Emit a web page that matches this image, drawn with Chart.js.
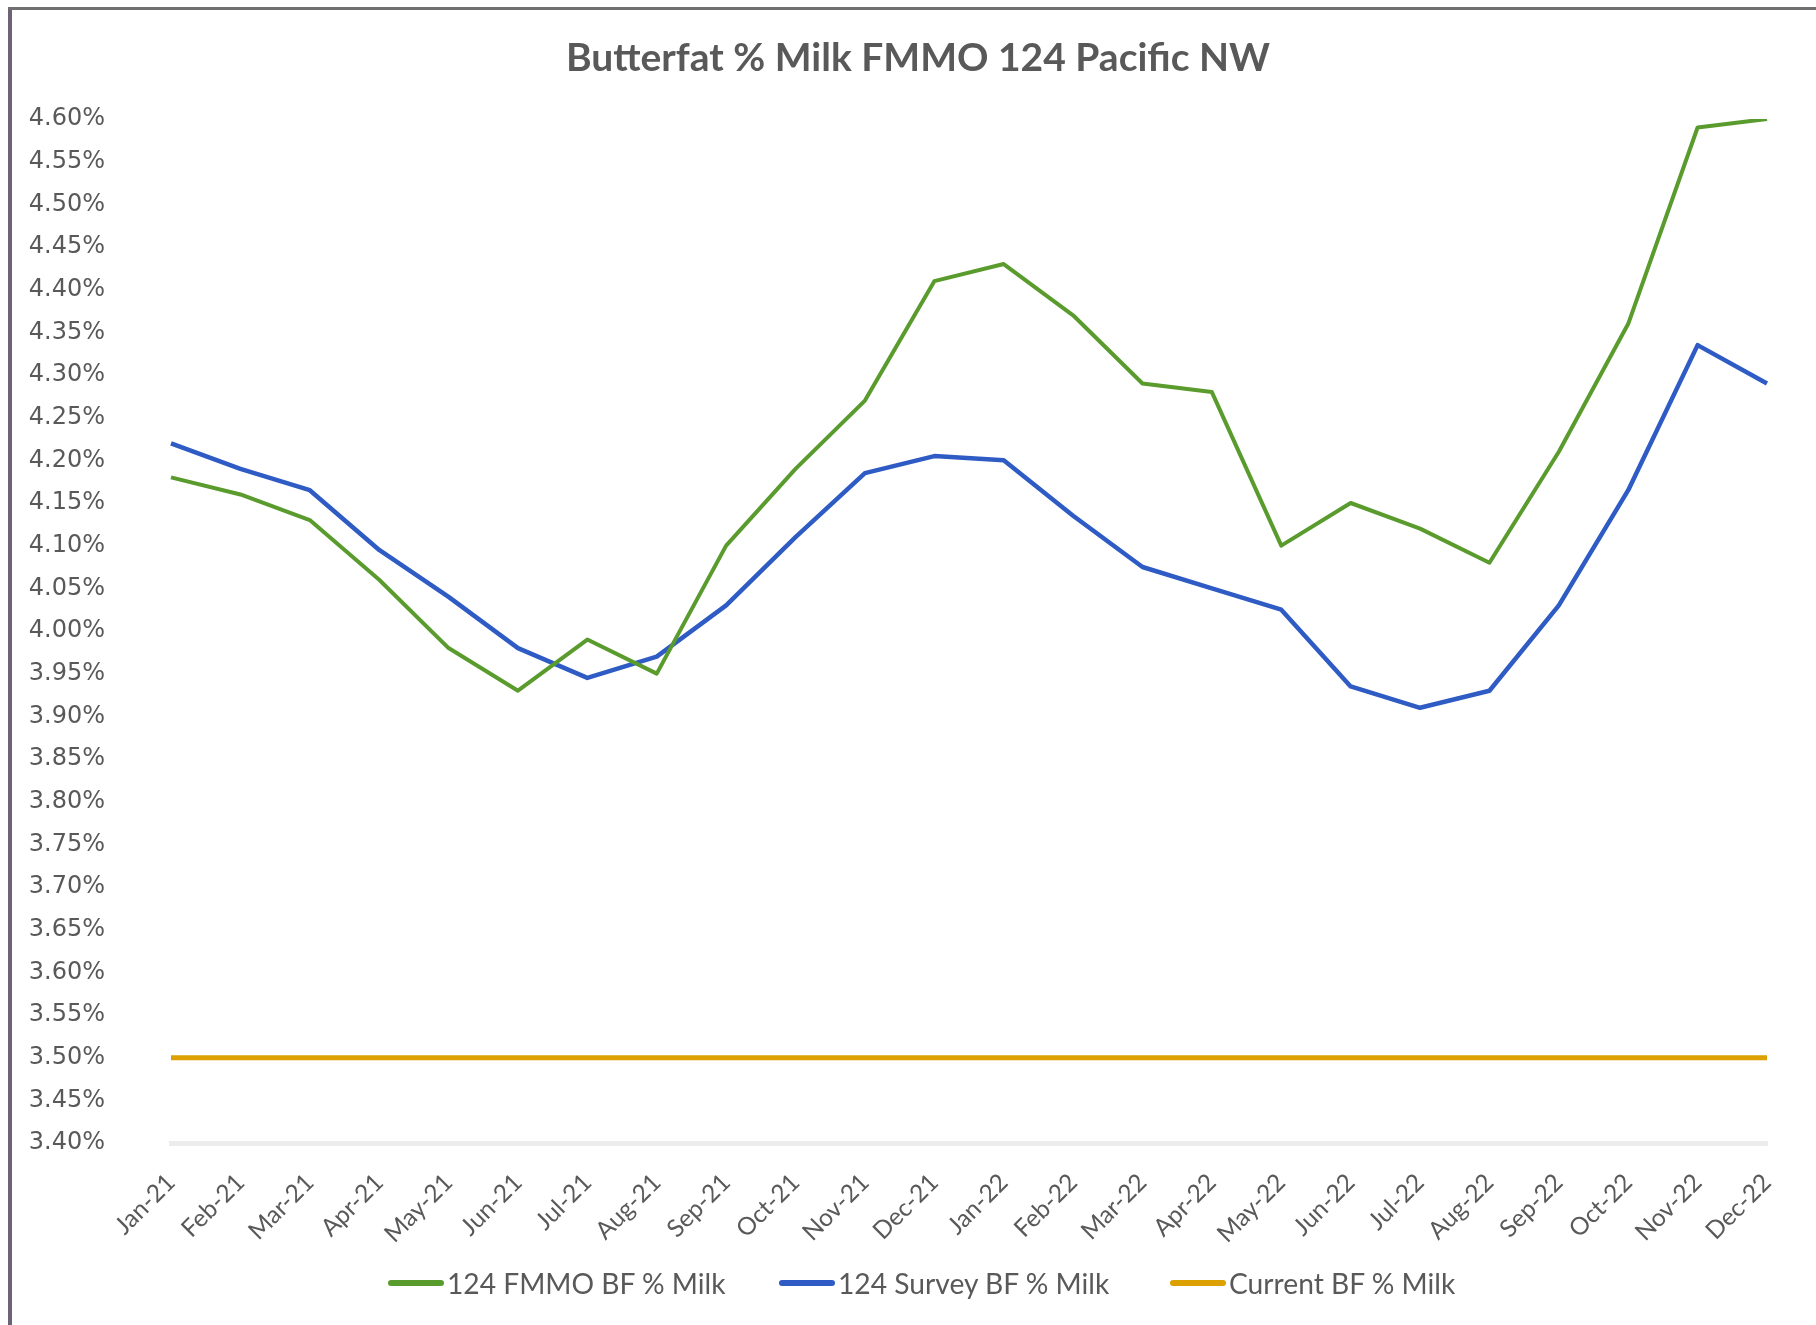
<!DOCTYPE html>
<html><head><meta charset="utf-8">
<script src="https://cdn.jsdelivr.net/npm/chart.js@4.4.0/dist/chart.umd.min.js"></script>
<style>
html,body{margin:0;padding:0;background:#fff;}
#wrap{position:relative;width:1816px;height:1325px;overflow:hidden;background:#fff;}
#frameL{position:absolute;left:8px;top:7px;width:4px;height:1318px;background:#6e6278;}
#frameT{position:absolute;left:8px;top:7px;width:1808px;height:3px;background:#707070;}
canvas{position:absolute;left:0;top:0;}
#title{position:absolute;left:518px;width:800px;top:30px;height:52px;line-height:52px;text-align:center;font-family:Lato,'Open Sans',sans-serif;font-weight:bold;font-size:39px;color:#595959;white-space:nowrap;}
#legend{position:absolute;top:1265px;left:0;width:1816px;height:36px;}
.item{position:absolute;top:0;height:36px;display:flex;align-items:center;font-family:Lato,'Open Sans',sans-serif;font-size:28.2px;color:#595959;white-space:nowrap;}
.mk{width:56px;height:6px;border-radius:3px;margin-right:3px;}
</style>
</head><body>
<div id="wrap">
<canvas id="c" width="1816" height="1325"></canvas>
<div id="frameL"></div><div id="frameT"></div>
<div id="title"></div>
<div id="legend"></div>
</div>
<script>
const categories = ['Jan-21','Feb-21','Mar-21','Apr-21','May-21','Jun-21','Jul-21','Aug-21','Sep-21','Oct-21','Nov-21','Dec-21',
                    'Jan-22','Feb-22','Mar-22','Apr-22','May-22','Jun-22','Jul-22','Aug-22','Sep-22','Oct-22','Nov-22','Dec-22'];
const fmmoBF   = [4.18,4.16,4.13,4.06,3.98,3.93,3.99,3.95,4.10,4.19,4.27,4.41,4.43,4.37,4.29,4.28,4.10,4.15,4.12,4.08,4.21,4.36,4.59,4.60];
const surveyBF = [4.22,4.19,4.165,4.095,4.04,3.98,3.945,3.97,4.03,4.11,4.185,4.205,4.20,4.135,4.075,4.05,4.025,3.935,3.91,3.93,4.03,4.165,4.335,4.29];
const currentBF = [3.50,3.50,3.50,3.50,3.50,3.50,3.50,3.50,3.50,3.50,3.50,3.50,3.50,3.50,3.50,3.50,3.50,3.50,3.50,3.50,3.50,3.50,3.50,3.50];
const yTickValues = [3.40,3.45,3.50,3.55,3.60,3.65,3.70,3.75,3.80,3.85,3.90,3.95,4.00,4.05,4.10,4.15,4.20,4.25,4.30,4.35,4.40,4.45,4.50,4.55,4.60];
const seriesNames = ['124 FMMO BF % Milk','124 Survey BF % Milk','Current BF % Milk'];
const titleText = 'Butterfat % Milk FMMO 124 Pacific NW';

const colors = ['#5a9b2e','#2e5cc4','#dca000'];
const widths = [4,4.5,5];
const dataSets = [fmmoBF, surveyBF, currentBF];

document.getElementById('title').textContent = titleText;

new Chart(document.getElementById('c'), {
  type:'line',
  data:{
    labels: categories,
    datasets: dataSets.map((d,i)=>({label:seriesNames[i], data:d, borderColor:colors[i], backgroundColor:colors[i],
      borderWidth:widths[i], pointRadius:0, tension:0, fill:false, borderCapStyle:'butt', borderJoinStyle:'round'}))
  },
  options:{
    responsive:false, animation:false,
    layout:{padding:{left:27,right:49,top:119,bottom:0}},
    plugins:{ legend:{display:false}, tooltip:{enabled:false}, title:{display:false} },
    scales:{
      x:{
        grid:{display:false, drawTicks:false},
        border:{display:true, color:'#ececec', width:5},
        ticks:{autoSkip:false, maxRotation:45, minRotation:45, padding:25, color:'#595959', font:{family:'Lato', size:24.5}},
        afterFit(s){ s.height = 182; }
      },
      y:{
        min:3.4, max:4.6,
        grid:{display:false, drawTicks:false},
        border:{display:false},
        ticks:{autoSkip:false, padding:66, color:'#595959', font:{family:'DejaVu Sans', size:24}, callback:(v)=>Number(v).toFixed(2)+'%'},
        afterBuildTicks(s){ s.ticks = yTickValues.map(v=>({value:v})); },
        afterFit(s){ s.width = 144; }
      }
    }
  }
});

const lg = document.getElementById('legend');
const lefts = [388,779,1170];
seriesNames.forEach((n,i)=>{
  const it = document.createElement('div'); it.className='item'; it.style.left = lefts[i]+'px';
  const mk = document.createElement('span'); mk.className='mk'; mk.style.background = colors[i];
  const tx = document.createElement('span'); tx.textContent = n;
  it.appendChild(mk); it.appendChild(tx); lg.appendChild(it);
});
</script>
</body></html>
